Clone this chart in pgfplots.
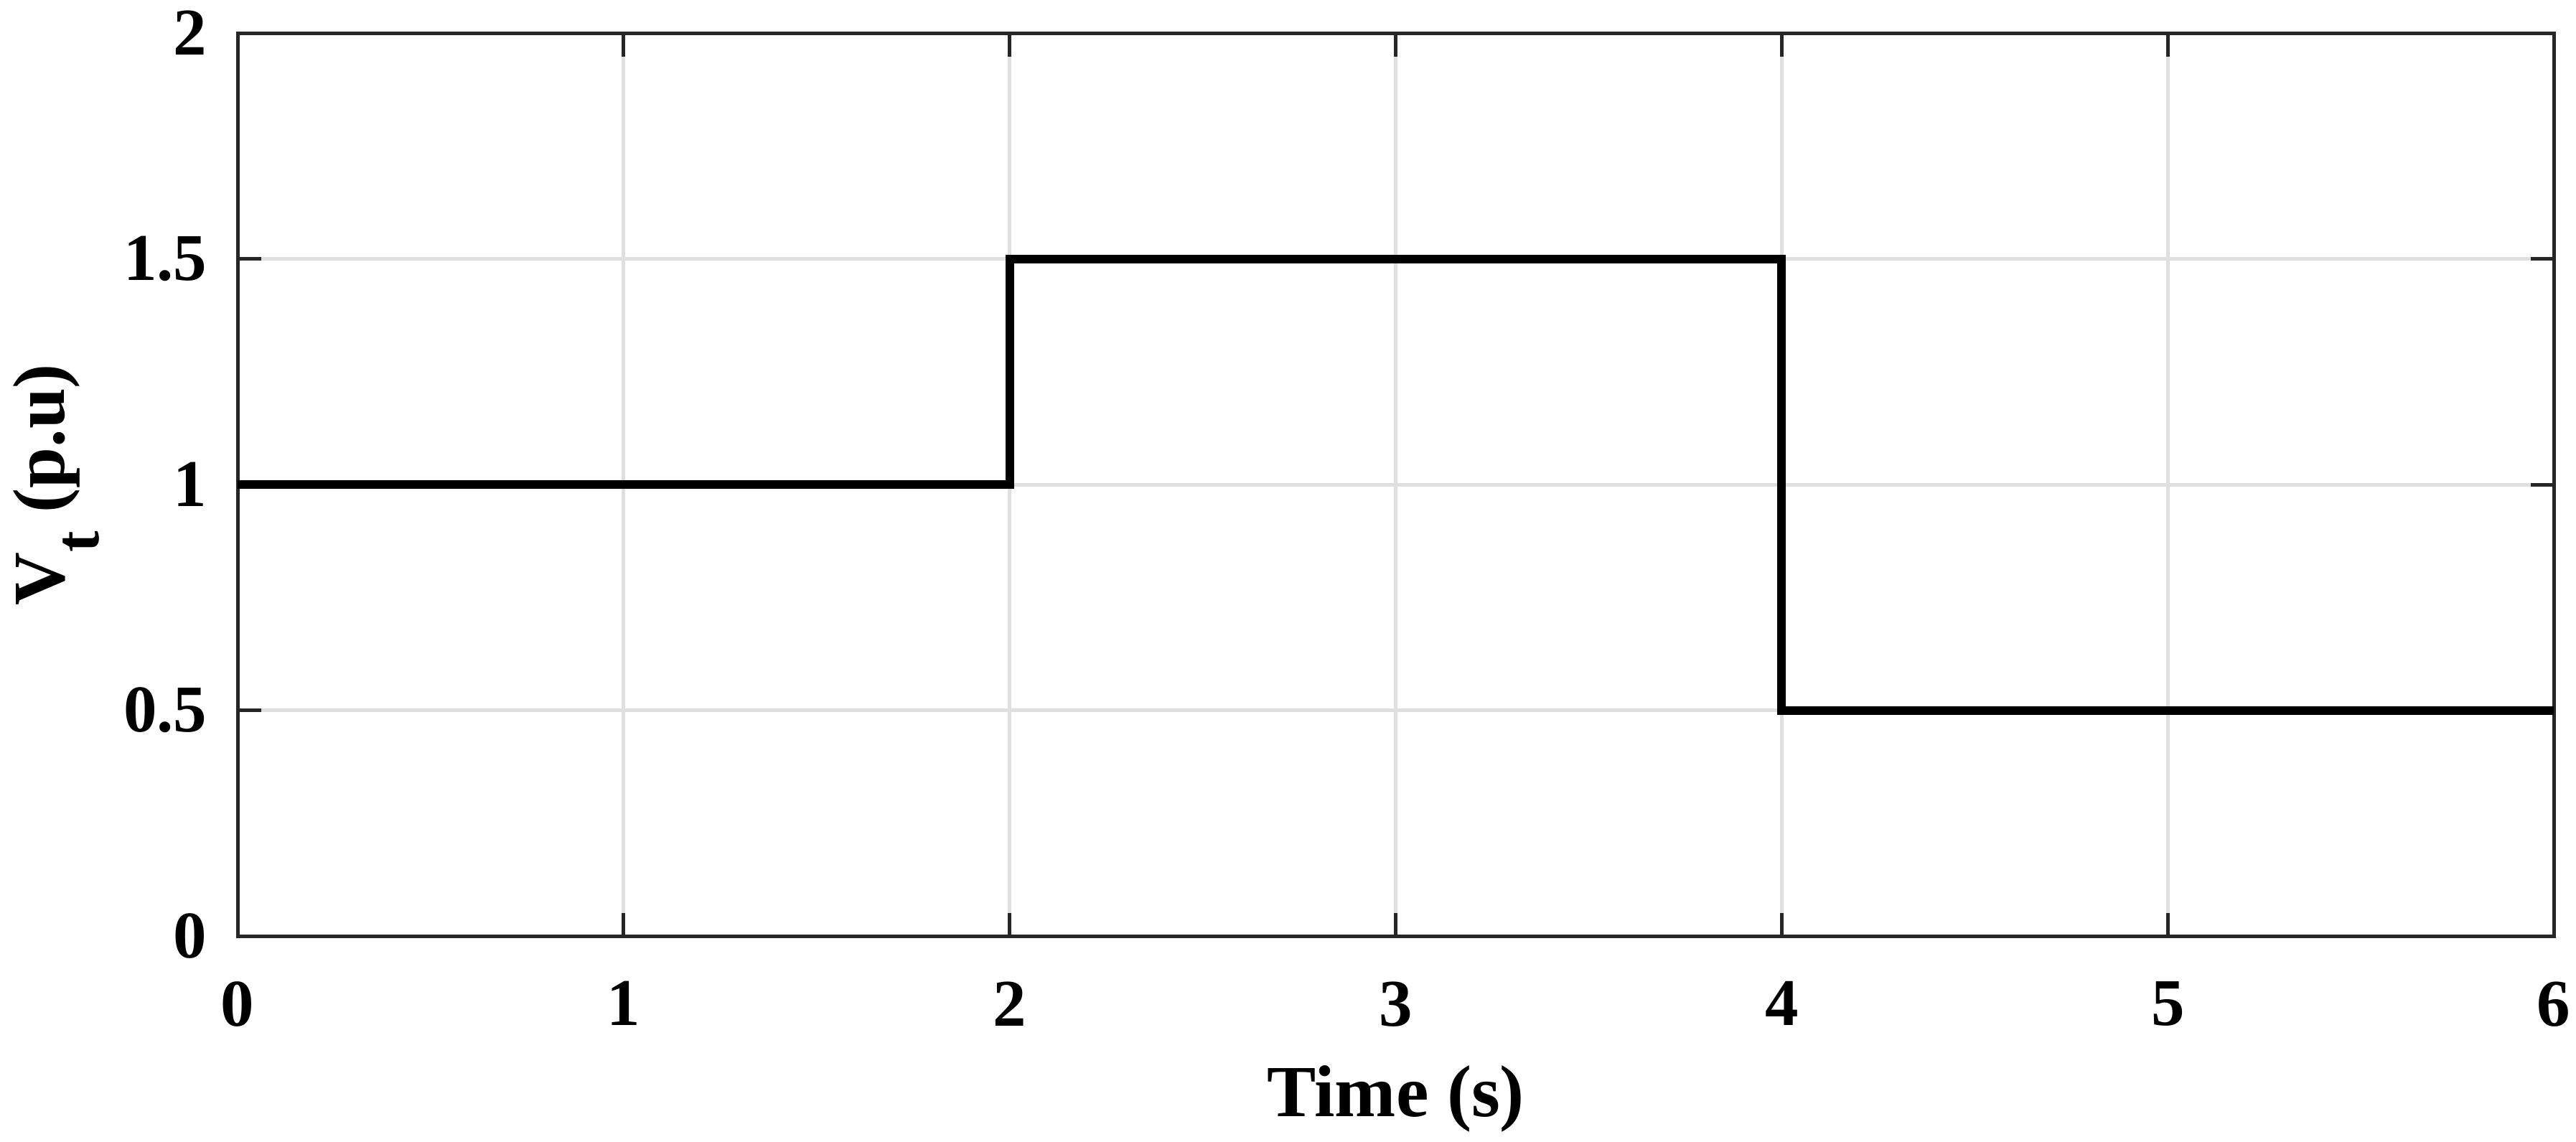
\documentclass[border=0pt]{standalone}
\usepackage{fontspec}
\setmainfont{Liberation Serif}
\usepackage{pgfplots}
\pgfplotsset{compat=1.18}
\definecolor{axc}{HTML}{262626}
\definecolor{gridc}{HTML}{DFDFDF}
\begin{document}
\begin{tikzpicture}
\begin{axis}[
  name=ax,
  scale only axis,
  width=347pt, height=135.3pt,
  xmin=0, xmax=6, ymin=0, ymax=2,
  xtick={0,1,2,3,4,5,6},
  ytick={0,0.5,1,1.5,2},
  /pgf/number format/assume math mode=true,
  tick label style={font=\fontsize{10}{12}\selectfont\bfseries, inner sep=0pt},
  xticklabel style={anchor=north, yshift=-6.6pt},
  yticklabel style={anchor=east, xshift=-4.4pt},
  tick align=inside,
  major tick length=3.5pt,
  axis line style={axc, line width=0.54pt},
  every tick/.style={axc, line width=0.54pt},
  grid=major,
  major grid style={gridc, line width=0.54pt},
  xlabel={Time (s)},
  ylabel={V\raisebox{-5.2pt}{\fontsize{9.5}{11}\selectfont t} (p.u)},
  label style={font=\fontsize{11}{13}\selectfont\bfseries, inner sep=0pt},
  xlabel style={at={(axis description cs:0.5,0)}, anchor=north, yshift=-19.2pt},
  ylabel style={at={(axis description cs:-0.0974,0.5)}, anchor=north, rotate=0},
]
\addplot[black, line width=1.3pt, line join=miter] coordinates {
  (0,1) (2,1) (2,1.5) (4,1.5) (4,0.5) (6,0.5)
};
\end{axis}
\pgfresetboundingbox
\path[use as bounding box] ([xshift=-35.6pt,yshift=-30.75pt]ax.south west) rectangle ([xshift=3.33pt,yshift=4.95pt]ax.north east);
\end{tikzpicture}
\end{document}
